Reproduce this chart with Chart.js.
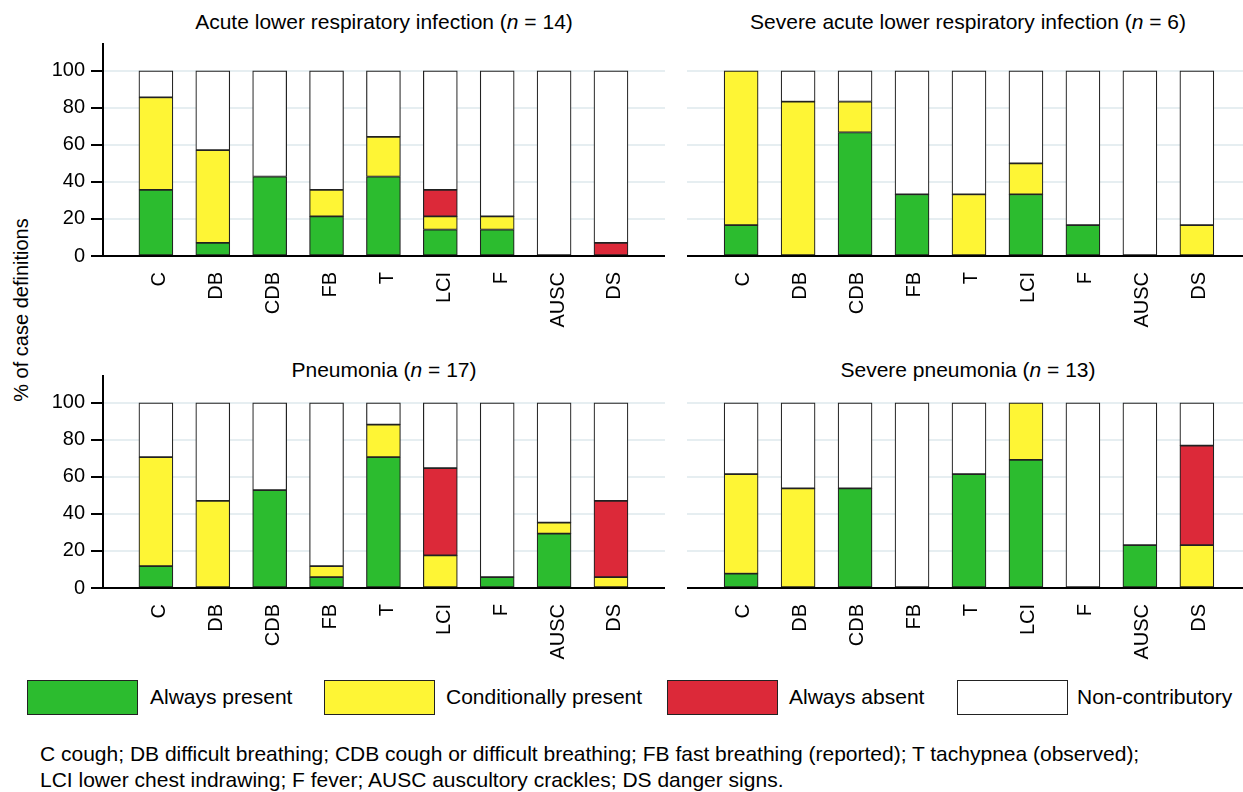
<!DOCTYPE html>
<html>
<head>
<meta charset="utf-8">
<script src="https://cdn.jsdelivr.net/npm/chart.js@4.4.0/dist/chart.umd.min.js"></script>
<style>
  body { margin: 0; background: #fff; font-family: "Liberation Sans", Arial, sans-serif; color: #000; }
  #wrap { position: relative; width: 1243px; height: 792px; overflow: hidden; }
  canvas { position: absolute; }
  .title { position: absolute; font-size: 21px; white-space: nowrap; transform: translate(-50%, -50%); }
  .ylab { position: absolute; left: 21px; top: 310px; font-size: 20px; white-space: nowrap;
          transform: translate(-50%, -50%) rotate(-90deg); }
  .box { position: absolute; top: 680px; width: 109px; height: 33px; border: 1px solid #222; }
  .lab { position: absolute; top: 697px; font-size: 21px; transform: translateY(-50%); white-space: nowrap; }
  .foot { position: absolute; left: 40px; font-size: 21px; white-space: nowrap; }
</style>
</head>
<body>
<div id="wrap">
  <div class="title" style="left:384px; top:22px">Acute lower respiratory infection (<i>n</i> = 14)</div>
  <div class="title" style="left:968px; top:22px">Severe acute lower respiratory infection (<i>n</i> = 6)</div>
  <div class="title" style="left:384px; top:370px">Pneumonia (<i>n</i> = 17)</div>
  <div class="title" style="left:968px; top:370px">Severe pneumonia (<i>n</i> = 13)</div>
  <div class="ylab">% of case definitions</div>

  <canvas id="c1" width="665" height="293" style="left:0; top:43px"></canvas>
  <canvas id="c2" width="556" height="293" style="left:687px; top:43px"></canvas>
  <canvas id="c3" width="665" height="293" style="left:0; top:375px"></canvas>
  <canvas id="c4" width="556" height="293" style="left:687px; top:375px"></canvas>

  <div class="box" style="left:27px; background:#2cbc2f"></div>
  <div class="lab" style="left:150px">Always present</div>
  <div class="box" style="left:324px; background:#fef535"></div>
  <div class="lab" style="left:446px">Conditionally present</div>
  <div class="box" style="left:667px; background:#dc2939"></div>
  <div class="lab" style="left:789px">Always absent</div>
  <div class="box" style="left:957px; background:#fff"></div>
  <div class="lab" style="left:1077px">Non-contributory</div>

  <div class="foot" style="top:742px">C cough; DB difficult breathing; CDB cough or difficult breathing; FB fast breathing (reported); T tachypnea (observed);</div>
  <div class="foot" style="top:768px">LCI lower chest indrawing; F fever; AUSC auscultory crackles; DS danger signs.</div>
</div>

<script>
// カテゴリ（症状）
const categories = ['C', 'DB', 'CDB', 'FB', 'T', 'LCI', 'F', 'AUSC', 'DS'];
const seriesNames = ['Always present', 'Conditionally present', 'Always absent', 'Non-contributory'];
const yTicks = [0, 20, 40, 60, 80, 100];

// Acute lower respiratory infection (n = 14)
const alriPresent     = [35.7, 7.1, 42.9, 21.4, 42.9, 14.3, 14.3, 0, 0];
const alriConditional = [50.0, 50.0, 0, 14.3, 21.4, 7.1, 7.1, 0, 0];
const alriAbsent      = [0, 0, 0, 0, 0, 14.3, 0, 0, 7.1];
const alriNonContrib  = [14.3, 42.9, 57.1, 64.3, 35.7, 64.3, 78.6, 100, 92.9];

// Severe acute lower respiratory infection (n = 6)
const salriPresent     = [16.7, 0, 66.7, 33.3, 0, 33.3, 16.7, 0, 0];
const salriConditional = [83.3, 83.3, 16.7, 0, 33.3, 16.7, 0, 0, 16.7];
const salriAbsent      = [0, 0, 0, 0, 0, 0, 0, 0, 0];
const salriNonContrib  = [0, 16.7, 16.6, 66.7, 66.7, 50.0, 83.3, 100, 83.3];

// Pneumonia (n = 17)
const pnPresent     = [11.8, 0, 52.9, 5.9, 70.6, 0, 5.9, 29.4, 0];
const pnConditional = [58.8, 47.1, 0, 5.9, 17.6, 17.6, 0, 5.9, 5.9];
const pnAbsent      = [0, 0, 0, 0, 0, 47.1, 0, 0, 41.2];
const pnNonContrib  = [29.4, 52.9, 47.1, 88.2, 11.8, 35.3, 94.1, 64.7, 52.9];

// Severe pneumonia (n = 13)
const spnPresent     = [7.7, 0, 53.8, 0, 61.5, 69.2, 0, 23.1, 0];
const spnConditional = [53.8, 53.8, 0, 0, 0, 30.8, 0, 0, 23.1];
const spnAbsent      = [0, 0, 0, 0, 0, 0, 0, 0, 53.8];
const spnNonContrib  = [38.5, 46.2, 46.2, 100, 38.5, 0, 100, 76.9, 23.1];

const colors = ['#2cbc2f', '#fef535', '#dc2939', '#ffffff'];

Chart.defaults.font.family = '"Liberation Sans", Arial, sans-serif';
Chart.defaults.color = '#000';

// パネルを描く関数
function makePanel(id, series, showAxis, xMin, xMax) {
    const ctx = document.getElementById(id).getContext('2d');
    const datasets = series.map((values, s) => ({
        label: seriesNames[s],
        data: values.map((v, i) => ({ x: i, y: v === 0 ? null : v })),
        backgroundColor: colors[s],
        borderColor: '#222',
        borderWidth: 1.2,
        borderSkipped: false,
        barThickness: 34
    }));

    return new Chart(ctx, {
        type: 'bar',
        data: { datasets: datasets },
        options: {
            responsive: false,
            animation: false,
            devicePixelRatio: 1,
            layout: { padding: 0 },
            plugins: { legend: { display: false }, tooltip: { enabled: false } },
            scales: {
                x: {
                    type: 'linear',
                    stacked: true,
                    offset: false,
                    bounds: 'data',
                    min: xMin,
                    max: xMax,
                    grid: { display: false, offset: false },
                    border: { display: true, color: '#000', width: 2 },
                    ticks: {
                        stepSize: 1,
                        includeBounds: false,
                        autoSkip: false,
                        minRotation: 90,
                        maxRotation: 90,
                        padding: 8,
                        font: { size: 20 },
                        callback: v => categories[Math.round(v)] || ''
                    },
                    afterFit: s => { s.height = 80; s.paddingLeft = 0; s.paddingRight = 0; }
                },
                y: {
                    stacked: true,
                    min: 0,
                    max: 115,
                    afterBuildTicks: s => { s.ticks = yTicks.map(v => ({ value: v })); },
                    grid: {
                        color: '#e6eef1',
                        lineWidth: 2,
                        drawTicks: showAxis,
                        tickColor: '#000',
                        tickLength: 12,
                        tickWidth: 2
                    },
                    border: { display: showAxis, color: '#000', width: 2 },
                    ticks: { display: showAxis, padding: 6, font: { size: 20 } },
                    afterFit: s => {
                        s.width = showAxis ? 103 : 0;
                        s.paddingTop = 0;
                        s.paddingBottom = 0;
                    }
                }
            }
        }
    });
}

makePanel('c1', [alriPresent, alriConditional, alriAbsent, alriNonContrib], true, -0.93, 8.95);
makePanel('c2', [salriPresent, salriConditional, salriAbsent, salriNonContrib], false, -0.95, 8.81);
makePanel('c3', [pnPresent, pnConditional, pnAbsent, pnNonContrib], true, -0.93, 8.95);
makePanel('c4', [spnPresent, spnConditional, spnAbsent, spnNonContrib], false, -0.95, 8.81);
</script>
</body>
</html>
